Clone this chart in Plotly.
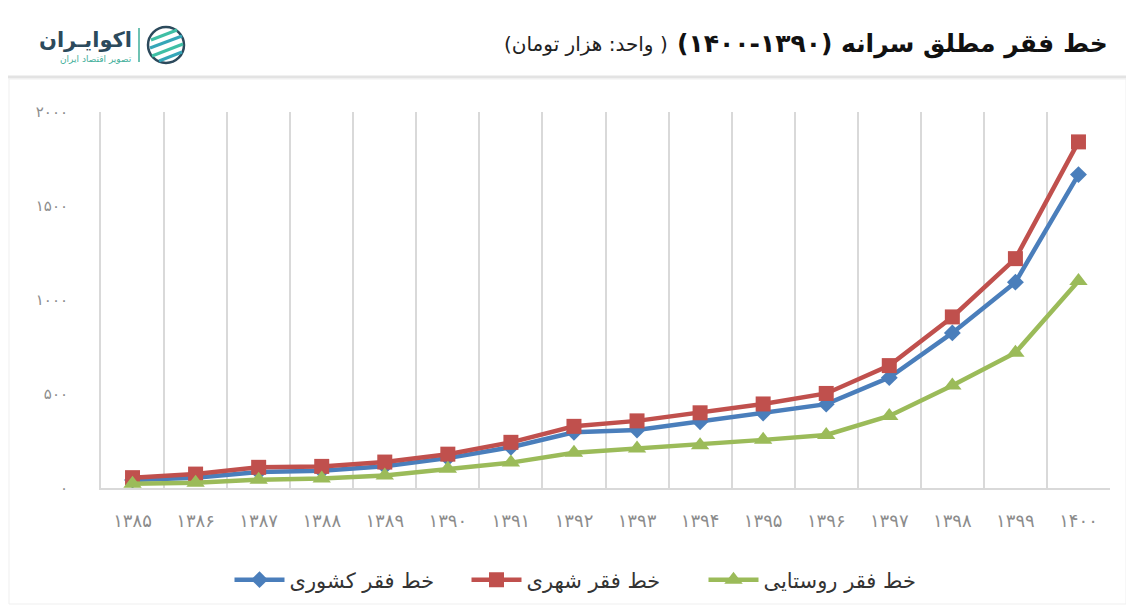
import plotly.graph_objects as go

# ---------------- data ----------------
years = ["۱۳۸۵", "۱۳۸۶", "۱۳۸۷", "۱۳۸۸", "۱۳۸۹", "۱۳۹۰", "۱۳۹۱", "۱۳۹۲",
         "۱۳۹۳", "۱۳۹۴", "۱۳۹۵", "۱۳۹۶", "۱۳۹۷", "۱۳۹۸", "۱۳۹۹", "۱۴۰۰"]
national = [42, 55, 85, 92, 116, 159, 217, 296, 308, 352, 399, 446, 587, 825, 1095, 1667]
urban = [55, 74, 110, 115, 138, 180, 243, 328, 357, 400, 447, 503, 651, 910, 1220, 1841]
rural = [22, 28, 44, 50, 66, 102, 135, 187, 210, 228, 256, 282, 383, 545, 720, 1101]
y_tick_values = [0, 500, 1000, 1500, 2000]
y_tick_labels = ["۰", "۵۰۰", "۱۰۰۰", "۱۵۰۰", "۲۰۰۰"]
series_names = ["خط فقر کشوری", "خط فقر شهری", "خط فقر روستایی"]

RLE, PDF = "\u202B", "\u202C"
title_text = RLE + "خط فقر مطلق سرانه (۱۳۹۰-۱۴۰۰)" + PDF
subtitle_text = RLE + "( واحد: هزار تومان)" + PDF
logo_text = "اکوایـران"
logo_sub = "تصویر اقتصاد ایران"

# ---------------- layout geometry ----------------
# page has an 8px body margin, so the figure is drawn 8px in from the top-left corner
OFF = 8
W, H = 1134 - OFF, 605 - OFF
# plot area in page pixels
PL, PR, PT, PB = 101, 1110, 112, 488
L, R, T, B = PL - OFF, PR - OFF, PT - OFF, PB - OFF


def px(x):  # page pixel -> paper x
    return (x - OFF - L) / (R - L)


def py(y):  # page pixel -> paper y
    return (B - (y - OFF)) / (B - T)


FONT = "DejaVu Sans"

fig = go.Figure()
fig.add_trace(go.Scatter(
    x=years, y=national, name=series_names[0], mode="lines+markers",
    line=dict(color="#4A7EBB", width=4.5),
    marker=dict(symbol="diamond", size=13, color="#4A7EBB")))
fig.add_trace(go.Scatter(
    x=years, y=urban, name=series_names[1], mode="lines+markers",
    line=dict(color="#C0504D", width=4.5),
    marker=dict(symbol="square", size=15, color="#C0504D")))
fig.add_trace(go.Scatter(
    x=years, y=rural, name=series_names[2], mode="lines+markers",
    line=dict(color="#9BBB59", width=4.5),
    marker=dict(symbol="triangle-up", size=16, color="#9BBB59")))

fig.update_layout(
    width=W, height=H,
    margin=dict(l=L, r=W - R, t=T, b=H - B, autoexpand=False),
    paper_bgcolor="white", plot_bgcolor="white",
    showlegend=True,
    legend=dict(orientation="h", x=px(585), xanchor="center", y=py(580), yanchor="middle",
                font=dict(family=FONT, size=21, color="#333333"),
                entrywidth=172, itemwidth=50, bgcolor="rgba(0,0,0,0)"),
    font=dict(family=FONT),
)

fig.update_xaxes(
    type="category", range=[-0.5, len(years) - 0.5], tickson="boundaries",
    showgrid=True, gridcolor="#d9d9d9", gridwidth=2,
    showline=True, linecolor="#d9d9d9", linewidth=2, mirror=False,
    ticks="", tickfont=dict(family=FONT, size=18, color="#8c8c8c"),
    ticklabelstandoff=15, zeroline=False, automargin=False,
)
fig.update_yaxes(
    range=[0, 2000], tickvals=y_tick_values, ticktext=y_tick_labels,
    showgrid=False, zeroline=False, showline=True, linecolor="#d9d9d9", linewidth=2,
    ticks="", tickfont=dict(family=FONT, size=15, color="#8c8c8c"), ticklabelstandoff=28,
    automargin=False,
)

# header
fig.add_annotation(xref="paper", yref="paper", x=px(1110), y=py(44), xanchor="right", yanchor="middle",
                   text="<b>" + title_text + "</b>", showarrow=False,
                   font=dict(family=FONT, size=25, color="#111111"))
fig.add_annotation(xref="paper", yref="paper", x=px(670), y=py(44), xanchor="right", yanchor="middle",
                   text=subtitle_text, showarrow=False,
                   font=dict(family=FONT, size=20, color="#222222"))
fig.add_annotation(xref="paper", yref="paper", x=px(134), y=py(40), xanchor="right", yanchor="middle",
                   text="<b>" + logo_text + "</b>", showarrow=False,
                   font=dict(family=FONT, size=21, color="#2c4a5c"))
fig.add_annotation(xref="paper", yref="paper", x=px(134), y=py(59), xanchor="right", yanchor="middle",
                   text=logo_sub, showarrow=False,
                   font=dict(family=FONT, size=9, color="#3fae9a"))

shapes = []
# separator under header
shapes.append(dict(type="line", xref="paper", yref="paper", x0=px(0), x1=px(1134), y0=py(77), y1=py(77),
                   line=dict(color="#e3e3e3", width=3)))
# panel border
shapes.append(dict(type="rect", xref="paper", yref="paper", x0=px(9), x1=px(1126), y0=py(79), y1=py(604),
                   line=dict(color="#efefef", width=1)))
# logo separator
shapes.append(dict(type="line", xref="paper", yref="paper", x0=px(139), x1=px(139), y0=py(28), y1=py(62),
                   line=dict(color="#3fae9a", width=1.5)))
# logo icon: circle + stripes
shapes.append(dict(type="circle", xref="paper", yref="paper", x0=px(148), x1=px(184), y0=py(27), y1=py(63),
                   line=dict(color="#2c4a5c", width=2.5)))
for i, (a, b) in enumerate([((151, 40), (177, 30)), ((150, 48), (182, 36)), ((152, 56), (183, 44)),
                            ((159, 61), (182, 52))]):
    shapes.append(dict(type="line", xref="paper", yref="paper", x0=px(a[0]), y0=py(a[1]),
                       x1=px(b[0]), y1=py(b[1]),
                       line=dict(color="#3fbfa5" if i % 2 == 0 else "#35a6b8", width=3)))
fig.update_layout(shapes=shapes)

fig.write_html("out.html")
